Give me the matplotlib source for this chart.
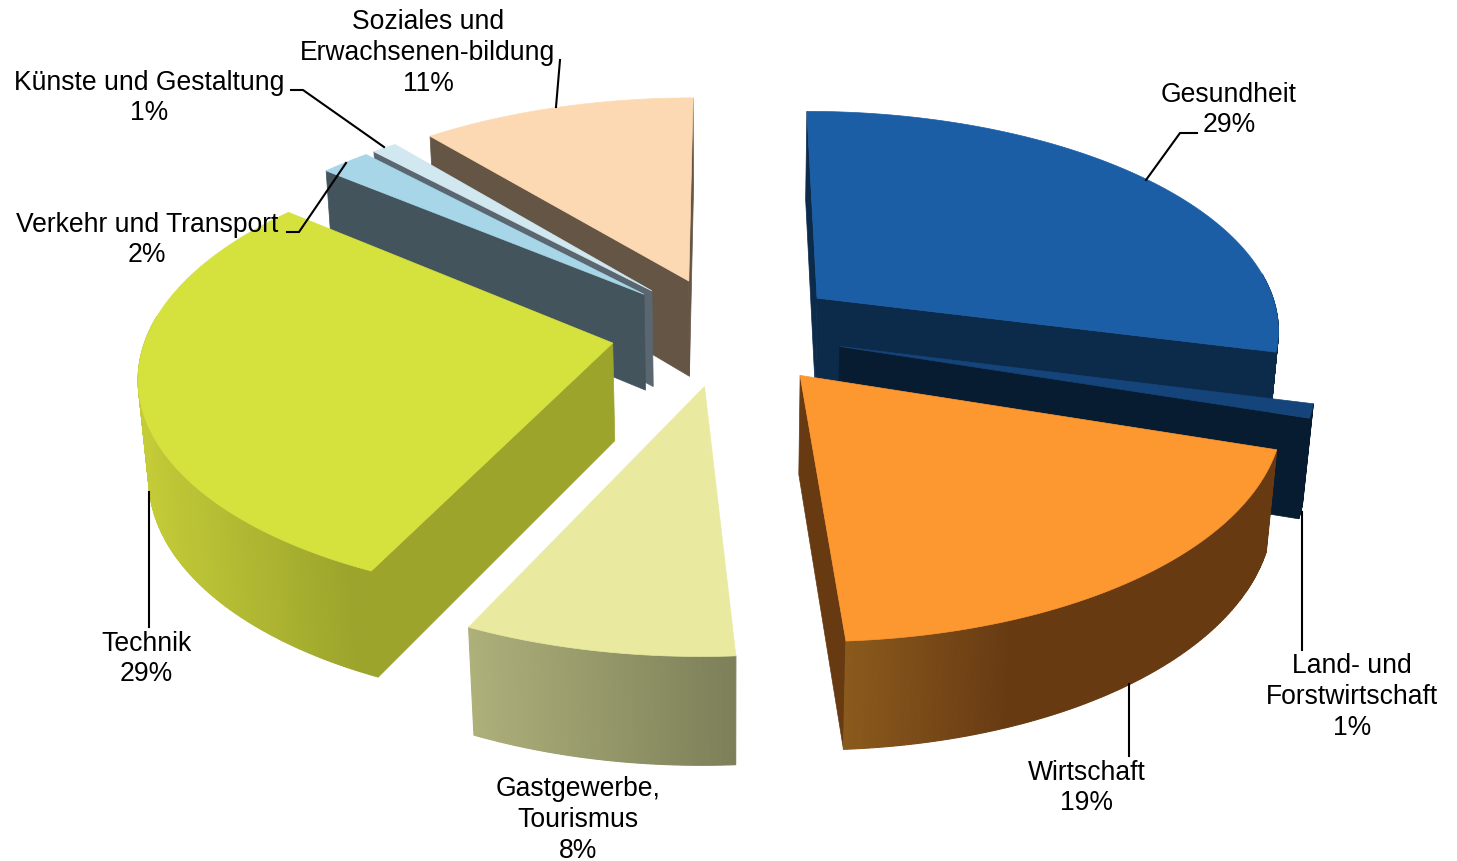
import numpy as np
import matplotlib
matplotlib.use('Agg')
import matplotlib.pyplot as plt
from matplotlib.colors import to_rgb

plt.rcParams['font.family'] = ['Liberation Sans', 'DejaVu Sans']

categories = ['Gesundheit', 'Land- und\nForstwirtschaft', 'Wirtschaft', 'Gastgewerbe,\nTourismus',
              'Technik', 'Verkehr und Transport', 'Künste und Gestaltung', 'Soziales und\nErwachsenen-bildung']
values = [29, 1, 19, 8, 29, 2, 1, 11]

top_colors = ['#1b5ea6', '#14447a', '#fd9730', '#e9ea9f', '#d5e13d', '#a7d6e8', '#d2e8f1', '#fdd9b3']
radial_colors = ['#0c2a4a', '#071c30', '#683a12', '#7c7f58', '#9ca42c', '#43545c', '#5a6670', '#655544']
outer_light = ['#0c2a4a', '#071c30', '#8a5a1c', '#aeb07a', '#c4cc38', '#43545c', '#5a6670', '#655544']
outer_dark = ['#0c2a4a', '#071c30', '#683a12', '#7c7f58', '#9ca42c', '#43545c', '#5a6670', '#655544']
shade_speed = [1, 1, 2.6, 1, 1.1, 1, 1, 1]

# back to front
draw_order = [7, 6, 5, 0, 1, 4, 2, 3]

label_x = [1229, 1352, 1087, 578, 146, 147, 149, 428]
label_y = [110, 697, 788, 820, 659, 240, 98, 53]
leaders = [[(1197, 133), (1180, 133), (1146, 180)],
           [(1302, 650), (1302, 512)],
           [(1129, 756), (1129, 684)],
           [],
           [(149, 627), (149, 492)],
           [(287, 232), (299, 232), (346, 163)],
           [(291, 90), (303, 90), (384, 147)],
           [(556, 107), (560, 60)]]

X0, Y0 = 727, 331
A, B, C = 465, 219, 99
K, M = 0.13, 0.018
EXPLODE = 0.25


def project(u, v, low=False):
    w = 1 + K * v + (M if low else 0)
    y = B * v - (C if low else 0)
    return X0 + A * u / w, Y0 - y / w


fig = plt.figure(figsize=(14.57, 8.61), dpi=100)
ax = fig.add_axes([0, 0, 1, 1])
ax.set_xlim(0, 1457)
ax.set_ylim(861, 0)
ax.axis('off')

# angles clockwise from 12 o'clock
edges = np.cumsum([0] + values) / sum(values) * 2 * np.pi

for i in draw_order:
    t0, t1 = edges[i], edges[i + 1]
    mid = (t0 + t1) / 2
    cu, cv = EXPLODE * np.sin(mid), EXPLODE * np.cos(mid)
    t = np.linspace(t0, t1, max(int((t1 - t0) * 150), 4))
    au, av = cu + np.sin(t), cv + np.cos(t)

    # radial walls, only the ones facing the camera
    for a, n in [(t0, t0 - np.pi / 2), (t1, t1 + np.pi / 2)]:
        if np.sin(n) * (0 - cu) + np.cos(n) * (-1 / K - cv) <= 0:
            continue
        eu, ev = cu + np.sin(a), cv + np.cos(a)
        quad = [project(cu, cv), project(eu, ev), project(eu, ev, True), project(cu, cv, True)]
        ax.fill(*zip(*quad), color=radial_colors[i], lw=0.5, zorder=1)

    # outer wall, shaded left to right
    tx, ty = project(au, av)
    bx, by = project(au, av, True)
    light, dark = np.array(to_rgb(outer_light[i])), np.array(to_rgb(outer_dark[i]))
    span = max(tx.max() - tx.min(), 1)
    for j in range(len(t) - 1):
        if np.cos((t[j] + t[j + 1]) / 2) > 0.12:
            continue
        f = min(((tx[j] + tx[j + 1]) / 2 - tx.min()) / span * shade_speed[i], 1)
        col = light + (dark - light) * f
        ax.fill([tx[j], tx[j + 1], bx[j + 1], bx[j]], [ty[j], ty[j + 1], by[j + 1], by[j]],
                color=col, lw=0.8, zorder=1)

    # top face
    ax.fill(*zip(project(cu, cv), *zip(tx, ty)), color=top_colors[i], lw=0.5, zorder=1)

for i, name in enumerate(categories):
    ax.text(label_x[i], label_y[i], f'{name}\n{values[i]}%', ha='center', va='center',
            fontsize=19.1, linespacing=1.23, color='black', zorder=3)
    if leaders[i]:
        ax.plot(*zip(*leaders[i]), color='black', lw=1.5, zorder=2)

fig.savefig('out.png', dpi=100, facecolor='white')
